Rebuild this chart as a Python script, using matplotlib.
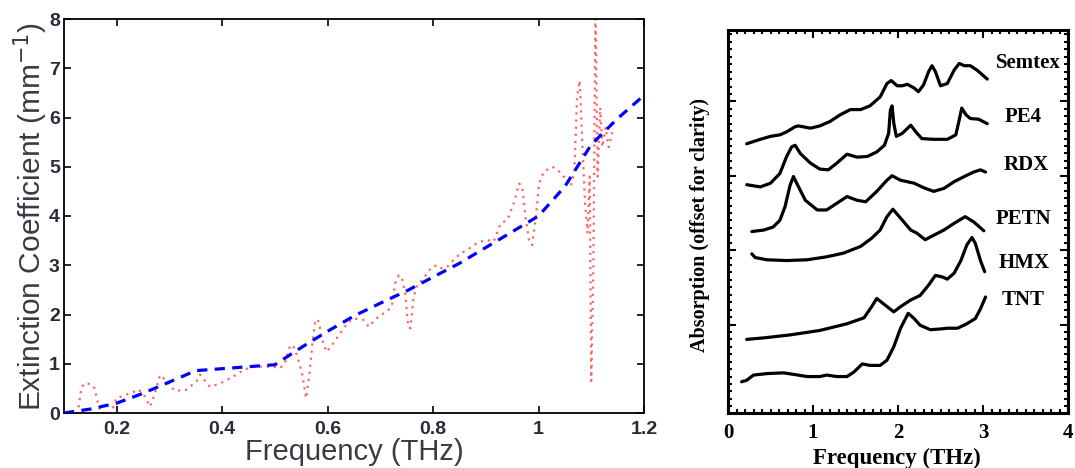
import matplotlib
matplotlib.use("Agg")
import matplotlib.pyplot as plt
from matplotlib.ticker import MultipleLocator, FixedLocator

# ---------------- Left panel data ----------------
fit_freq = [0.10, 0.15, 0.20, 0.25, 0.30, 0.35, 0.40, 0.45, 0.50, 0.55, 0.60,
            0.65, 0.70, 0.75, 0.80, 0.85, 0.90, 0.95, 1.00, 1.05, 1.10, 1.15, 1.20]
fit_ext = [0.00, 0.08, 0.20, 0.40, 0.63, 0.86, 0.90, 0.94, 0.98, 1.33, 1.66,
           1.97, 2.23, 2.48, 2.76, 3.04, 3.36, 3.68, 4.00, 4.60, 5.45, 5.98, 6.45]

meas_freq = [0.110, 0.126, 0.133, 0.140, 0.152, 0.158, 0.164, 0.170, 0.190, 0.199,
             0.215, 0.231, 0.240, 0.250, 0.263, 0.272, 0.282, 0.294, 0.310, 0.332,
             0.351, 0.358, 0.367, 0.377, 0.396, 0.421, 0.440, 0.459, 0.478, 0.497,
             0.510, 0.519, 0.529, 0.535, 0.543, 0.552, 0.559, 0.565, 0.572, 0.577,
             0.583, 0.590, 0.598, 0.611, 0.624, 0.637, 0.649, 0.668, 0.678, 0.687,
             0.700, 0.713, 0.722, 0.728, 0.735, 0.741, 0.747, 0.753, 0.757, 0.763,
             0.770, 0.779, 0.789, 0.798, 0.808, 0.815, 0.827, 0.839, 0.852, 0.865,
             0.877, 0.890, 0.903, 0.915, 0.928, 0.941, 0.953, 0.963, 0.969, 0.975,
             0.982, 0.988, 0.995, 1.001, 1.010, 1.026, 1.035, 1.048, 1.061, 1.068,
             1.073, 1.078, 1.083, 1.088, 1.093, 1.097, 1.100, 1.104, 1.108, 1.112,
             1.117, 1.121, 1.127, 1.133, 1.140]
meas_ext = [0.00, 0.00, 0.52, 0.61, 0.58, 0.50, 0.22, 0.00, 0.00, 0.30,
            0.36, 0.42, 0.48, 0.40, 0.13, 0.38, 0.77, 0.66, 0.45, 0.47,
            0.64, 0.78, 0.66, 0.53, 0.60, 0.74, 0.87, 0.95, 0.94, 0.94,
            0.91, 1.01, 1.38, 1.35, 1.14, 0.78, 0.30, 0.75, 1.50, 1.90,
            1.86, 1.48, 1.24, 1.42, 1.62, 1.82, 1.92, 1.89, 1.75, 1.86,
            1.99, 2.06, 2.19, 2.63, 2.80, 2.73, 2.43, 1.75, 1.72, 2.36,
            2.60, 2.70, 2.84, 2.97, 3.00, 2.94, 2.97, 3.11, 3.24, 3.31,
            3.41, 3.48, 3.51, 3.48, 3.85, 3.92, 4.26, 4.66, 4.60, 3.99,
            3.51, 3.41, 3.99, 4.66, 4.90, 5.00, 4.95, 4.80, 4.60, 4.90,
            6.40, 6.75, 5.50, 4.30, 3.65, 4.80, 0.65, 3.00, 8.30, 4.80,
            6.20, 5.40, 5.80, 5.40, 5.70]

left_xticks = [0.2, 0.4, 0.6, 0.8, 1.0, 1.2]
left_xticklabels = ["0.2", "0.4", "0.6", "0.8", "1", "1.2"]
left_yticks = [0, 1, 2, 3, 4, 5, 6, 7, 8]

# ---------------- Right panel data ----------------
semtex_f = [0.22, 0.38, 0.50, 0.61, 0.69, 0.79, 0.83, 0.97, 1.08, 1.20, 1.32, 1.44,
            1.56, 1.67, 1.79, 1.87, 1.92, 1.99, 2.05, 2.11, 2.19, 2.24, 2.30, 2.36,
            2.40, 2.44, 2.50, 2.58, 2.66, 2.72, 2.78, 2.85, 2.93, 2.99, 3.05]
semtex_a = [2.43, 2.49, 2.53, 2.55, 2.59, 2.66, 2.67, 2.64, 2.67, 2.73, 2.82, 2.89,
            2.89, 2.94, 3.06, 3.24, 3.28, 3.21, 3.21, 3.23, 3.18, 3.13, 3.22, 3.40,
            3.48, 3.40, 3.21, 3.24, 3.42, 3.51, 3.48, 3.48, 3.42, 3.36, 3.30]

pe4_f = [0.22, 0.38, 0.50, 0.61, 0.69, 0.75, 0.79, 0.85, 0.97, 1.08, 1.18, 1.28,
         1.40, 1.52, 1.64, 1.75, 1.84, 1.89, 1.91, 1.93, 1.95, 1.98, 2.05, 2.15,
         2.21, 2.28, 2.42, 2.58, 2.68, 2.72, 2.75, 2.80, 2.85, 2.95, 3.05]
pe4_a = [1.88, 1.85, 1.90, 2.03, 2.26, 2.39, 2.41, 2.30, 2.17, 2.09, 2.08, 2.17,
         2.29, 2.25, 2.26, 2.32, 2.41, 2.57, 2.88, 2.94, 2.71, 2.53, 2.57, 2.68,
         2.59, 2.50, 2.49, 2.49, 2.55, 2.75, 2.91, 2.82, 2.77, 2.76, 2.70]

rdx_f = [0.28, 0.42, 0.53, 0.61, 0.67, 0.73, 0.77, 0.83, 0.91, 1.05, 1.16, 1.28,
         1.40, 1.52, 1.62, 1.75, 1.87, 1.93, 2.03, 2.19, 2.30, 2.42, 2.54, 2.66,
         2.78, 2.89, 2.97, 3.03]
rdx_a = [1.25, 1.27, 1.31, 1.40, 1.58, 1.87, 1.99, 1.85, 1.67, 1.54, 1.54, 1.63,
         1.72, 1.67, 1.65, 1.79, 1.94, 2.00, 1.94, 1.90, 1.84, 1.79, 1.83, 1.92,
         1.99, 2.05, 2.08, 2.05]

petn_f = [0.28, 0.32, 0.46, 0.69, 0.93, 1.16, 1.36, 1.56, 1.69, 1.79, 1.87, 1.94,
          2.03, 2.15, 2.22, 2.32, 2.42, 2.54, 2.66, 2.79, 2.89, 3.01]
petn_a = [0.95, 0.90, 0.87, 0.86, 0.87, 0.91, 0.96, 1.05, 1.16, 1.27, 1.45, 1.55,
          1.43, 1.27, 1.23, 1.14, 1.20, 1.27, 1.36, 1.45, 1.38, 1.26]

hmx_f = [0.22, 0.42, 0.73, 1.08, 1.40, 1.60, 1.69, 1.75, 1.85, 1.95, 2.03, 2.15,
         2.26, 2.36, 2.44, 2.52, 2.58, 2.66, 2.74, 2.81, 2.87, 2.91, 2.97, 3.02]
hmx_a = [-0.20, -0.18, -0.14, -0.08, 0.01, 0.09, 0.24, 0.35, 0.26, 0.17, 0.24, 0.33,
         0.39, 0.53, 0.66, 0.64, 0.61, 0.69, 0.86, 1.07, 1.17, 1.09, 0.86, 0.71]

tnt_f = [0.16, 0.22, 0.30, 0.46, 0.65, 0.77, 0.93, 1.08, 1.16, 1.28, 1.40, 1.48,
         1.58, 1.67, 1.79, 1.87, 1.95, 2.03, 2.12, 2.19, 2.26, 2.38, 2.50, 2.58,
         2.70, 2.81, 2.91, 2.97, 3.03]
tnt_a = [-0.77, -0.75, -0.68, -0.66, -0.65, -0.67, -0.70, -0.70, -0.68, -0.70, -0.70, -0.64,
         -0.53, -0.55, -0.55, -0.48, -0.30, -0.05, 0.15, 0.08, -0.01, -0.07, -0.06, -0.05,
         -0.05, 0.01, 0.08, 0.21, 0.37]

spectra_names = ["Semtex", "PE4", "RDX", "PETN", "HMX", "TNT"]
label_x = [3.53, 3.47, 3.51, 3.47, 3.48, 3.47]
label_y = [3.52, 2.79, 2.14, 1.42, 0.83, 0.33]

right_xticks = [0, 1, 2, 3, 4]
right_yticks = [0, 1, 2, 3]

# ---------------- Figure ----------------
W, H = 1075, 468
fig = plt.figure(figsize=(W / 100, H / 100), dpi=100)

# Left axes
axL = fig.add_axes([64 / W, 1 - 413 / H, 580 / W, 394 / H])
axL.plot(meas_freq, meas_ext, color="#ff3030", linestyle=(0, (1.0, 2.2)),
         linewidth=1.6, alpha=0.75, zorder=2)
axL.plot(fit_freq, fit_ext, color="#0000ff", linestyle=(0, (3.2, 2.3)),
         linewidth=2.3, zorder=3)
axL.set_xlim(0.1, 1.2)
axL.set_ylim(0, 8)
axL.set_xticks(left_xticks)
axL.set_xticklabels(left_xticklabels)
axL.set_yticks(left_yticks)
txtc = "#2a2a3a"
axL.tick_params(direction="in", top=True, right=True, length=5, width=1.2,
                labelsize=14, labelcolor=txtc)
axL.tick_params(axis="x", pad=6)
axL.tick_params(axis="y", pad=3)
for lab in axL.get_xticklabels() + axL.get_yticklabels():
    lab.set_family("Liberation Sans")
    lab.set_fontweight("bold")
for s in axL.spines.values():
    s.set_linewidth(1.3)
axL.set_xlabel("Frequency (THz)", fontsize=21, family="Liberation Sans", color="#3a3a44")
axL.xaxis.set_label_coords(0.5, -0.1)
axL.xaxis.label.set_va("center")
axL.set_ylabel("Extinction Coefficient (mm$^{-1}$)", fontsize=21.5,
               family="Liberation Sans", color="#3a3a44")
axL.yaxis.set_label_coords(-0.058, 0.5)
axL.yaxis.label.set_va("center")

# Right axes
axR = fig.add_axes([728 / W, 1 - 413 / H, 340 / W, 383 / H])
for f, a in [(semtex_f, semtex_a), (pe4_f, pe4_a), (rdx_f, rdx_a),
             (petn_f, petn_a), (hmx_f, hmx_a), (tnt_f, tnt_a)]:
    axR.plot(f, a, color="black", linewidth=2.3, solid_joinstyle="round",
             solid_capstyle="round")
for name, lx, ly in zip(spectra_names, label_x, label_y):
    axR.text(lx, ly, name, ha="center", va="center", fontsize=15,
             family="Liberation Serif", fontweight="bold")
axR.set_xlim(0, 4)
axR.set_ylim(-1.19, 3.96)
axR.xaxis.set_major_locator(FixedLocator(right_xticks))
axR.xaxis.set_minor_locator(MultipleLocator(0.1))
axR.yaxis.set_major_locator(FixedLocator(right_yticks))
axR.yaxis.set_minor_locator(MultipleLocator(0.1))
axR.set_yticklabels([])
axR.tick_params(which="both", direction="in", top=True, right=True, width=1.5)
axR.tick_params(which="major", length=6)
axR.tick_params(which="minor", length=3)
axR.tick_params(axis="x", which="major", labelsize=15, pad=7)
for lab in axR.get_xticklabels():
    lab.set_family("Liberation Serif")
    lab.set_fontweight("bold")
for s in axR.spines.values():
    s.set_linewidth(2.2)
axR.set_xlabel("Frequency (THz)", fontsize=16.5, family="Liberation Serif",
               fontweight="bold")
axR.xaxis.set_label_coords(0.497, -0.118)
axR.xaxis.label.set_va("center")
axR.set_ylabel("Absorption (offset for clarity)", fontsize=14.5,
               family="Liberation Serif", fontweight="bold")
axR.yaxis.set_label_coords(-0.082, 0.49)
axR.yaxis.label.set_va("center")

fig.savefig("out.png", dpi=100)
